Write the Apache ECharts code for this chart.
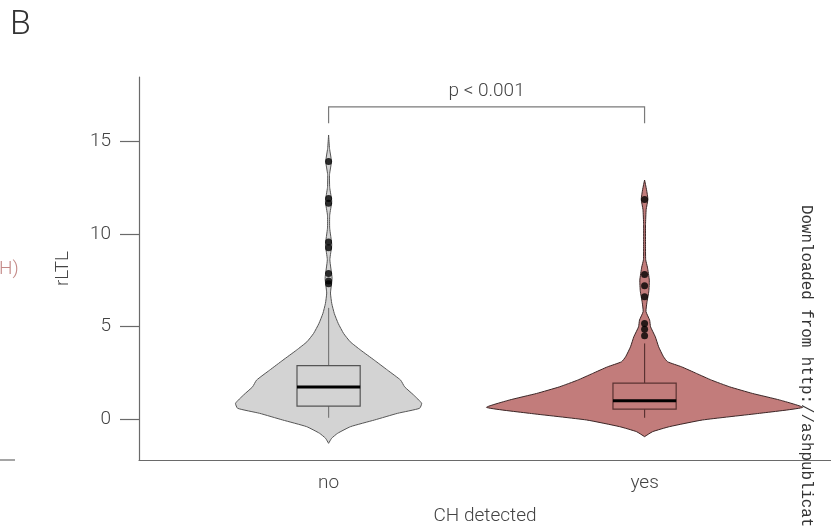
<!DOCTYPE html>
<html>
<head>
<meta charset="utf-8">
<title>rLTL by CH status</title>
<script src="https://cdn.jsdelivr.net/npm/echarts@6/dist/echarts.min.js"></script>
<style>
  html, body { margin: 0; padding: 0; background: #ffffff; }
  #chart { width: 831px; height: 527px; }
</style>
</head>
<body>
<div id="chart"></div>
<script>
// Groups on the x axis
const categories = ['no', 'yes'];
const yTicks = [0, 5, 10, 15];

// Box statistics: [lower whisker, Q1, median, Q3, upper whisker]
const noBox = [0.07, 0.70, 1.73, 2.88, 6.0];
const yesBox = [0.07, 0.54, 0.99, 1.94, 4.08];

// Outlying observations
const noOutliers = [13.9, 11.9, 11.65, 9.55, 9.25, 7.85, 7.45, 7.3];
const yesOutliers = [11.85, 7.8, 7.2, 6.6, 5.15, 4.85, 4.5];

// Kernel density profiles (rLTL value -> relative density)
const noDensityY = [15.33, 14.6, 13.9, 13.2, 12.5, 11.75, 11.0, 10.3, 9.4, 8.6, 7.6, 6.8, 6.24, 5.70, 5.16, 4.62, 4.17, 3.72, 3.18, 2.64, 2.10, 1.74, 1.30, 0.85, 0.58, 0.31, -0.05, -0.41, -0.77, -1.04, -1.31];
const noDensity  = [0, 0.006, 0.018, 0.006, 0.007, 0.02, 0.007, 0.007, 0.02, 0.008, 0.022, 0.012, 0.02, 0.036, 0.061, 0.095, 0.137, 0.203, 0.289, 0.373, 0.456, 0.481, 0.538, 0.589, 0.576, 0.437, 0.291, 0.139, 0.057, 0.019, 0];
const yesDensityY = [12.9, 12.4, 11.86, 11.3, 10.5, 9.5, 8.6, 8.2, 7.5, 6.9, 6.3, 5.8, 5.34, 4.98, 4.44, 3.90, 3.36, 3.09, 2.82, 2.46, 2.10, 1.74, 1.38, 1.03, 0.63, 0.31, -0.05, -0.41, -0.68, -0.95];
const yesDensity  = [0, 0.012, 0.021, 0.01, 0.006, 0.006, 0.007, 0.018, 0.03, 0.027, 0.015, 0.009, 0.032, 0.038, 0.068, 0.089, 0.12, 0.146, 0.234, 0.329, 0.424, 0.538, 0.684, 0.854, 1.0, 0.728, 0.367, 0.158, 0.051, 0];

// Significance annotation
const pLabel = 'p < 0.001';

// ---- drawing ----
const FONT = 'Roboto, "Liberation Sans", sans-serif';
const TEXT = '#444444';
const AXIS = '#6a6a6a';
const VIOLIN_HALF = 0.5;   // half width (x units) at density 1
const BOX_HALF = 0.1;      // half width of the box (x units)

const groups = [
  { ys: noDensityY, ds: noDensity, box: noBox, fill: '#D3D3D3', stroke: '#555555', boxStroke: '#555555', whisker: '#7a7a7a' },
  { ys: yesDensityY, ds: yesDensity, box: yesBox, fill: '#C27C7B', stroke: '#3b2626', boxStroke: '#5a3232', whisker: '#5a3232' }
];

function renderViolin(params, api) {
  const g = groups[api.value(0)];
  const cx = api.value(0) + 1;
  const right = g.ys.map((y, i) => api.coord([cx + g.ds[i] * VIOLIN_HALF, y]));
  const left = g.ys.map((y, i) => api.coord([cx - g.ds[i] * VIOLIN_HALF, y])).reverse();
  return {
    type: 'polygon',
    shape: { points: right.concat(left), smooth: 0.15 },
    style: { fill: g.fill, stroke: g.stroke, lineWidth: 1 }
  };
}

function renderBox(params, api) {
  const g = groups[api.value(0)];
  const cx = api.value(0) + 1;
  const b = g.box;
  const pMin = api.coord([cx, b[0]]);
  const pQ1 = api.coord([cx, b[1]]);
  const pMed = api.coord([cx, b[2]]);
  const pQ3 = api.coord([cx, b[3]]);
  const pMax = api.coord([cx, b[4]]);
  const xl = api.coord([cx - BOX_HALF, b[2]])[0];
  const xr = api.coord([cx + BOX_HALF, b[2]])[0];
  return {
    type: 'group',
    children: [
      { type: 'line', shape: { x1: pQ3[0], y1: pQ3[1], x2: pMax[0], y2: pMax[1] }, style: { stroke: g.whisker, lineWidth: 1.2 } },
      { type: 'line', shape: { x1: pMin[0], y1: pMin[1], x2: pQ1[0], y2: pQ1[1] }, style: { stroke: g.whisker, lineWidth: 1.2 } },
      { type: 'rect', shape: { x: xl, y: pQ3[1], width: xr - xl, height: pQ1[1] - pQ3[1] }, style: { fill: g.fill, stroke: g.boxStroke, lineWidth: 1.2 } },
      { type: 'line', shape: { x1: xl, y1: pMed[1], x2: xr, y2: pMed[1] }, style: { stroke: '#000000', lineWidth: 3 } }
    ]
  };
}

function renderBracket(params, api) {
  const a = api.coord([1, 15.97]);
  const b = api.coord([1, 16.85]);
  const c = api.coord([2, 16.85]);
  const d = api.coord([2, 15.97]);
  return {
    type: 'group',
    children: [
      { type: 'polyline', shape: { points: [a, b, c, d] }, style: { stroke: '#7a7a7a', lineWidth: 1.2, fill: null } },
      { type: 'text', x: (b[0] + c[0]) / 2, y: b[1] - 6,
        style: { text: pLabel, fontSize: 19, fontFamily: FONT, fontWeight: 300, fill: TEXT, align: 'center', verticalAlign: 'bottom' } }
    ]
  };
}

const chart = echarts.init(document.getElementById('chart'), null, { renderer: 'canvas' });

chart.setOption({
  animation: false,
  backgroundColor: '#ffffff',
  grid: { left: 139, right: 0, top: 77, bottom: 67, containLabel: false, outerBoundsMode: 'none' },
  xAxis: {
    type: 'value', min: 0.4, max: 2.59,
    axisLine: { show: true, onZero: false, lineStyle: { color: AXIS, width: 1.2 } },
    axisTick: { show: false },
    splitLine: { show: false },
    axisLabel: {
      customValues: [1, 2],
      formatter: v => categories[Math.round(v) - 1],
      fontSize: 19, fontFamily: FONT, fontWeight: 300, color: TEXT, margin: 14
    },
    name: 'CH detected', nameLocation: 'middle', nameGap: 47,
    nameTextStyle: { fontSize: 19, fontFamily: FONT, fontWeight: 300, color: TEXT }
  },
  yAxis: {
    type: 'value', min: -2.21, max: 18.46,
    axisLine: { show: true, lineStyle: { color: AXIS, width: 1.2 } },
    axisTick: { show: true, length: 19, customValues: yTicks, lineStyle: { color: AXIS, width: 1.2 } },
    splitLine: { show: false },
    axisLabel: {
      customValues: yTicks,
      fontSize: 19, fontFamily: FONT, fontWeight: 300, color: TEXT, margin: 28
    },
    name: 'rLTL', nameLocation: 'middle', nameGap: 66, nameRotate: 90,
    nameTextStyle: { fontSize: 19, fontFamily: FONT, fontWeight: 300, color: TEXT }
  },
  series: [
    { type: 'custom', name: 'violin', renderItem: renderViolin, data: [[0], [1]], z: 2, clip: false },
    { type: 'custom', name: 'box', renderItem: renderBox, data: [[0], [1]], z: 3, clip: false },
    {
      type: 'scatter', name: 'outliers', z: 4,
      data: noOutliers.map(v => [1, v]).concat(yesOutliers.map(v => [2, v])),
      symbol: 'circle', symbolSize: 7,
      itemStyle: { color: '#000000' }
    },
    { type: 'custom', name: 'bracket', renderItem: renderBracket, data: [[0]], z: 5, clip: false }
  ],
  graphic: [
    { type: 'text', left: 10, top: 8, style: { text: 'B', fontSize: 34, fontFamily: FONT, fontWeight: 300, fill: '#333333' } },
    { type: 'text', x: -1, y: 269, style: { text: 'H)', fontSize: 19, fontFamily: FONT, fontWeight: 300, fill: '#c48a88', verticalAlign: 'middle' } },
    { type: 'line', shape: { x1: 0, y1: 460, x2: 15, y2: 460 }, style: { stroke: AXIS, lineWidth: 1.2 } },
    { type: 'text', x: 806, y: 205, rotation: -Math.PI / 2, z: 100,
      style: { text: 'Downloaded from http://ashpublications.org', fontSize: 15.8, fontFamily: '"Liberation Mono", "DejaVu Sans Mono", monospace', fill: '#333333', align: 'left', verticalAlign: 'middle' } }
  ]
});
</script>
</body>
</html>
